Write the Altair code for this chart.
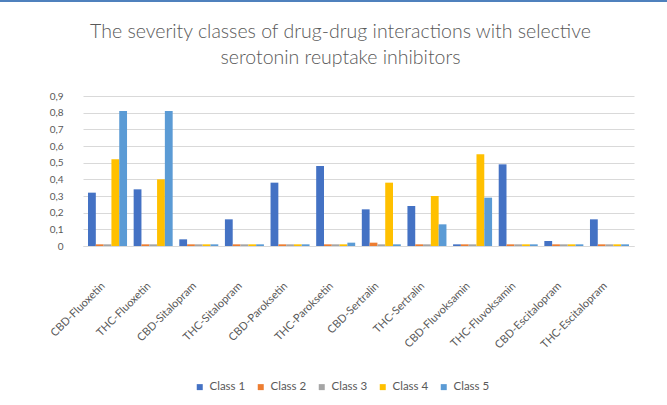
import altair as alt
import pandas as pd

drugs = [
    "CBD-Fluoxetin", "THC-Fluoxetin", "CBD-Sitalopram", "THC-Sitalopram",
    "CBD-Paroksetin", "THC-Paroksetin", "CBD-Sertralin", "THC-Sertralin",
    "CBD-Fluvoksamin", "THC-Fluvoksamin", "CBD-Escitalopram", "THC-Escitalopram",
]
class_names = ["Class 1", "Class 2", "Class 3", "Class 4", "Class 5"]

class1 = [0.32, 0.34, 0.04, 0.16, 0.38, 0.48, 0.22, 0.24, 0.01, 0.49, 0.03, 0.16]
class2 = [0.01, 0.01, 0.01, 0.01, 0.01, 0.01, 0.02, 0.01, 0.01, 0.01, 0.01, 0.01]
class3 = [0.01, 0.01, 0.01, 0.01, 0.01, 0.01, 0.01, 0.01, 0.01, 0.01, 0.01, 0.01]
class4 = [0.52, 0.40, 0.01, 0.01, 0.01, 0.01, 0.38, 0.30, 0.55, 0.01, 0.01, 0.01]
class5 = [0.81, 0.81, 0.01, 0.01, 0.01, 0.02, 0.01, 0.13, 0.29, 0.01, 0.01, 0.01]

colors = ["#4472C4", "#ED7D31", "#A5A5A5", "#FFC000", "#5B9BD5"]
y_ticks = [0, 0.1, 0.2, 0.3, 0.4, 0.5, 0.6, 0.7, 0.8, 0.9]

rows = []
for name, values in zip(class_names, [class1, class2, class3, class4, class5]):
    for drug, v in zip(drugs, values):
        rows.append({"drug": drug, "severity": name, "value": v})
df = pd.DataFrame(rows)

FONT = "Lato"
GREY = "#595959"

bars = alt.Chart(df).mark_bar().encode(
    x=alt.X(
        "drug:N",
        sort=drugs,
        scale=alt.Scale(paddingInner=0.145, paddingOuter=0.11),
        axis=alt.Axis(
            title=None,
            labelAngle=-45,
            labelAlign="right",
            labelBaseline="middle",
            labelPadding=38,
            labelOffset=-4,
            ticks=False,
            domainColor="#D9D9D9",
            labelColor=GREY,
            labelFont=FONT,
            labelFontSize=11,
        ),
    ),
    xOffset=alt.XOffset(
        "severity:N", sort=class_names,
        scale=alt.Scale(paddingInner=0, paddingOuter=0),
    ),
    y=alt.Y(
        "value:Q",
        scale=alt.Scale(domain=[0, 0.9], nice=False),
        axis=alt.Axis(
            title=None,
            values=y_ticks,
            domain=False,
            ticks=False,
            gridColor="#D9D9D9",
            labelPadding=20,
            labelColor=GREY,
            labelFont=FONT,
            labelFontSize=10,
            labelExpr="datum.value == 0 ? '0' : replace(format(datum.value, '.1f'), '.', ',')",
        ),
    ),
    color=alt.Color(
        "severity:N",
        sort=class_names,
        scale=alt.Scale(domain=class_names, range=colors),
        legend=alt.Legend(
            title=None,
            orient="none",
            direction="horizontal",
            legendX=111,
            legendY=285,
            symbolType="square",
            symbolSize=36,
            symbolStrokeWidth=0,
            labelFont=FONT,
            labelFontSize=11.5,
            labelColor=GREY,
            labelOffset=4,
            columnPadding=9,
        ),
    ),
)

# thin accent line along the top edge of the chart area
accent = alt.Chart(df).mark_rule(color="#4F81BD", strokeWidth=2).encode(
    x=alt.value(-83), x2=alt.value(584), y=alt.value(-95)
)

chart = alt.layer(bars, accent).properties(
    width=551,
    height=150,
    autosize=alt.AutoSizeParams(type="none"),
    padding={"left": 83, "top": 96, "right": 33, "bottom": 159},
    background="white",
    title=alt.TitleParams(
        text=[
            "The severity classes of drug-drug interactions with selective",
            "serotonin reuptake inhibitors",
        ],
        font=FONT,
        fontSize=19.5,
        fontWeight=300,
        color=GREY,
        anchor="middle",
        lineHeight=26,
        dx=-18,
        dy=94,
        offset=26,
    ),
).configure_view(stroke=None)

chart.save("out.html", embed_options={"renderer": "svg", "actions": False})
